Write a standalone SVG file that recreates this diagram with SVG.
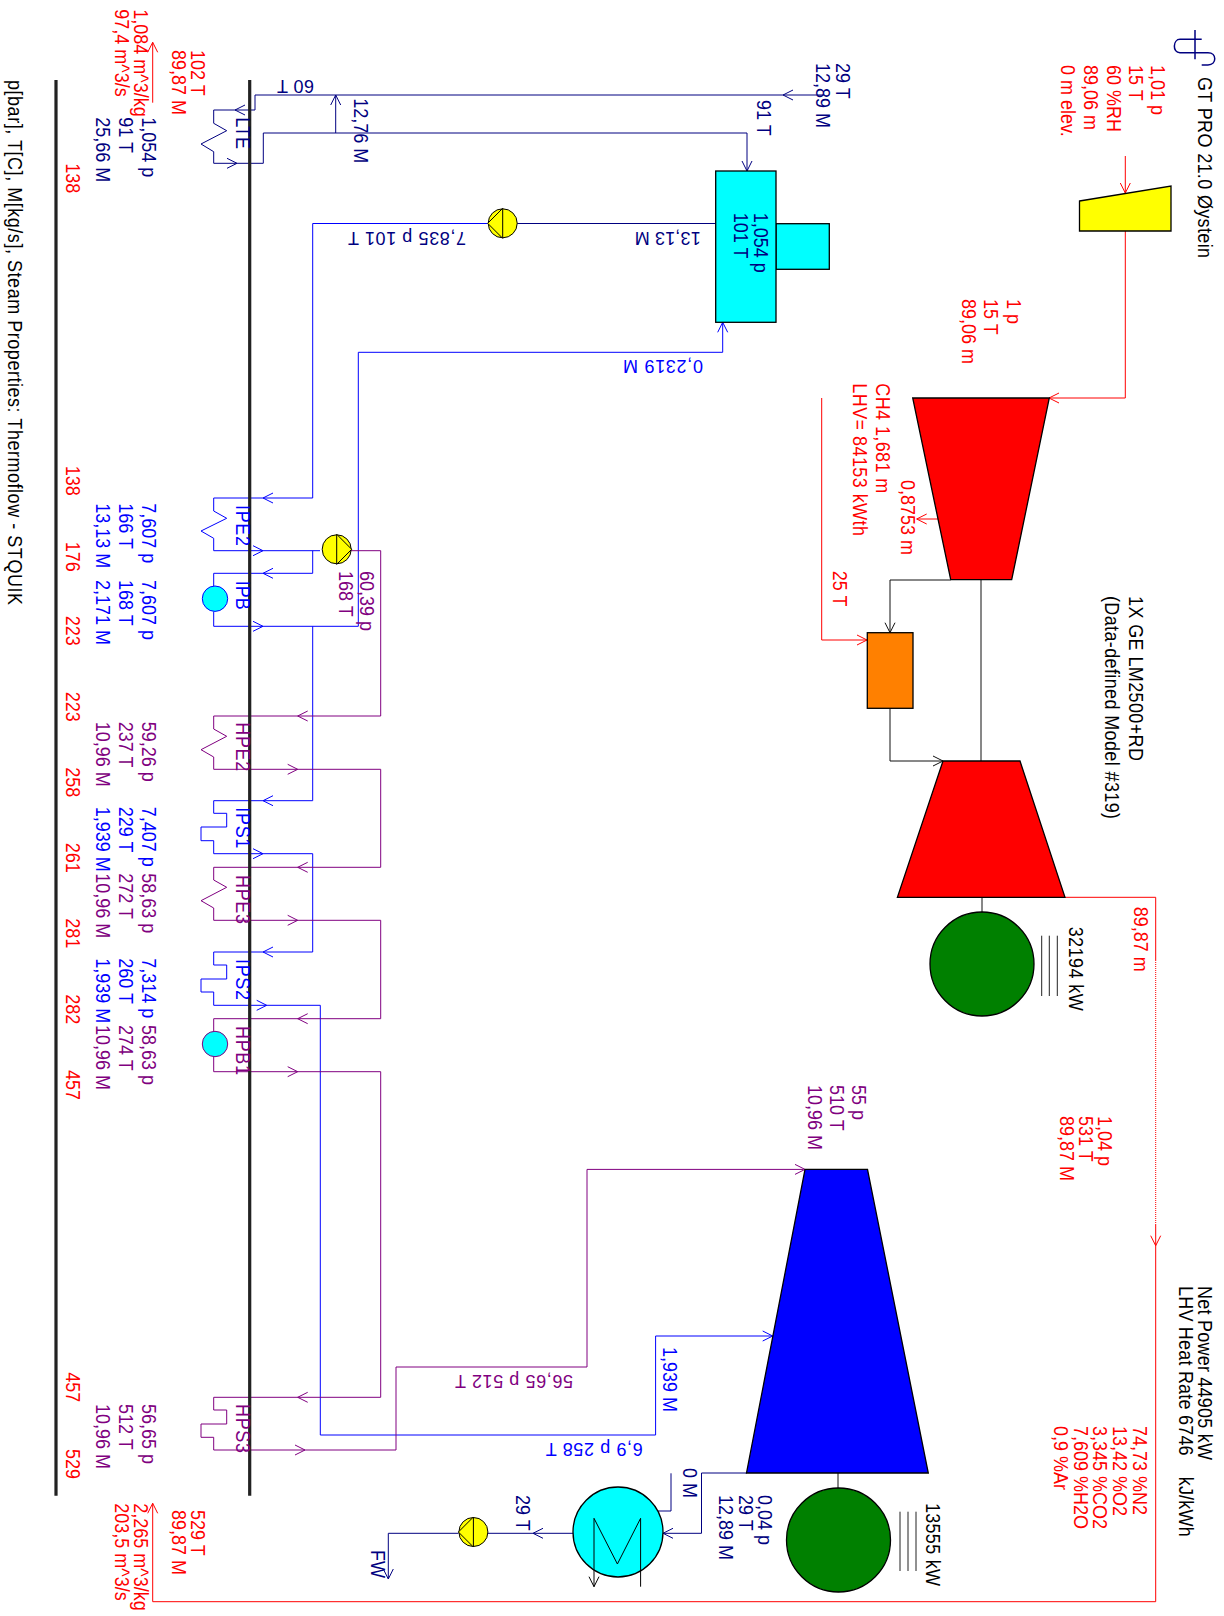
<svg xmlns="http://www.w3.org/2000/svg" width="1224" height="1616" viewBox="0 0 1224 1616">
<style>
text{font-family:"Liberation Sans",Arial,sans-serif;font-size:18px;white-space:pre}
.r{fill:#f00}.n{fill:#000080}.b{fill:#00f}.p{fill:#800080}.k{fill:#000}
.lr,.ln,.lb,.lp,.lk{fill:none;stroke-width:1}
.lr{stroke:#f00}.ln{stroke:#000080}.lb{stroke:#00f}.lp{stroke:#800080}.lk{stroke:#111}
.e{stroke:#000;stroke-width:1.3}
.wall{stroke:#222;stroke-width:3.2;fill:none}
</style>
<defs>
<path id="ah" d="M-10,-5 L0,0 L-10,5" fill="none"/>
<g id="pump"><circle r="14.5" fill="#ff0" stroke="#000" stroke-width="1"/><path d="M-15,0 L0,-15 L0,15 Z" fill="#ff0" stroke="#000" stroke-width="1"/></g>
</defs>
<rect width="1224" height="1616" fill="#fff"/>

<g id="connectors">
<path class="lr" d="M1125.3,156V193M1125.3,231V398H1049"/>
<use href="#ah" class="lr" transform="translate(1125.3,193) rotate(90)"/>
<use href="#ah" class="lr" transform="translate(1049,398) rotate(180)"/>
<path class="lk" d="M950.7,580H890V632.7"/>
<use href="#ah" class="lk" transform="translate(890,632.7) rotate(90)"/>
<path class="lk" d="M890,708.3V761H943"/>
<use href="#ah" class="lk" transform="translate(943,761)"/>
<path class="lk" d="M981,580V761M982,897V912M838,1473V1488"/>
<path class="lr" d="M821.7,398V640H867"/>
<use href="#ah" class="lr" transform="translate(867,640)"/>
<path class="lr" d="M938,519H916.7"/>
<use href="#ah" class="lr" transform="translate(916.7,519) rotate(180)"/>
<path class="lr" d="M1065,897.3H1155.7V960M1155.7,1225V1601.7H152.7V1503.3M152.7,102.7V42.3"/>
<path class="lr" d="M1155.7,960V1225" stroke-dasharray="1 1"/>
<use href="#ah" class="lr" transform="translate(1155.7,1245.7) rotate(90)"/>
<use href="#ah" class="lr" transform="translate(152.7,1503.3) rotate(-90)"/>
<use href="#ah" class="lr" transform="translate(152.7,42.3) rotate(-90)"/>
<path class="ln" d="M824,95H255V110H213.7V123.3L226.7,130.7L201,144L213.7,151.7V163.3H263.3V133H747V171"/>
<use href="#ah" class="ln" transform="translate(783,95) rotate(180)"/>
<use href="#ah" class="ln" transform="translate(235,110) rotate(180)"/>
<use href="#ah" class="ln" transform="translate(237,163.3)"/>
<use href="#ah" class="ln" transform="translate(747,171) rotate(90)"/>
<path class="ln" d="M335.7,133V95"/>
<use href="#ah" class="ln" transform="translate(335.7,95) rotate(-90)"/>
<path class="ln" d="M715.7,223.5H517"/>
<path class="lb" d="M487.5,223.5H312.7V498H213.7V511L226.7,518.3L201,531L213.7,538.3V550.7H320"/>
<use href="#ah" class="lb" transform="translate(263,498) rotate(180)"/>
<use href="#ah" class="lb" transform="translate(263,550.7)"/>
<path class="lb" d="M312.7,550.7V573.3H213.7V586M213.7,611.5V626.3H358.3V352.3H722.7V322.3"/>
<use href="#ah" class="lb" transform="translate(263,573.3) rotate(180)"/>
<use href="#ah" class="lb" transform="translate(263,626.3)"/>
<use href="#ah" class="lb" transform="translate(722.7,322.3) rotate(-90)"/>
<path class="lb" d="M312.7,626.3V800.7H213.7V813.3H226.7V827H201V840.7H213.7V853.7H312.7V952H213.7V965H226.7V979H201V992H213.7V1005.3H320.3V1435H655.6V1336H772.7"/>
<use href="#ah" class="lb" transform="translate(263,800.7) rotate(180)"/>
<use href="#ah" class="lb" transform="translate(263,853.7)"/>
<use href="#ah" class="lb" transform="translate(263,952) rotate(180)"/>
<use href="#ah" class="lb" transform="translate(266.7,1005.3)"/>
<use href="#ah" class="lb" transform="translate(772.7,1336)"/>
<path class="lp" d="M350.7,550.7H380.7V716H213.7V729L226.7,736.3L201,749.7L213.7,757V769.3H380.7V867.3H213.7V880L226.7,887.3L201,900.7L213.7,908V920.3H380.7V1018.7H213.7V1031.3M213.7,1057V1071.7H380.7V1397.3H213.7V1410H226.7V1424H201V1437.3H213.7V1450H396V1367H587V1169.4H803.6"/>
<use href="#ah" class="lp" transform="translate(297.7,716) rotate(180)"/>
<use href="#ah" class="lp" transform="translate(297.7,769.3)"/>
<use href="#ah" class="lp" transform="translate(297.7,867.3) rotate(180)"/>
<use href="#ah" class="lp" transform="translate(297.7,920.3)"/>
<use href="#ah" class="lp" transform="translate(297.7,1018.7) rotate(180)"/>
<use href="#ah" class="lp" transform="translate(297.7,1071.7)"/>
<use href="#ah" class="lp" transform="translate(297.7,1397.3) rotate(180)"/>
<use href="#ah" class="lp" transform="translate(305,1450)"/>
<use href="#ah" class="lp" transform="translate(805,1169.4)"/>
<path class="ln" d="M747,1473H701.5V1533.3H663"/>
<use href="#ah" class="ln" transform="translate(663,1533.3) rotate(180)"/>
<path class="ln" d="M671,1473.3V1511H641.6"/>
<use href="#ah" class="ln" transform="translate(641.6,1511) rotate(180)"/>
<path class="ln" d="M573,1533.3H488M458.5,1533.3H388.3V1579"/>
<use href="#ah" class="ln" transform="translate(533,1533.3) rotate(180)"/>
<use href="#ah" class="ln" transform="translate(388.3,1579) rotate(90)"/>
</g>

<g id="hrsg-walls"><path class="wall" d="M56,80V1495.7M249.7,80V1495.7"/></g>

<g id="logo"><path d="M1195,30V59.3M1201.7,39.3H1180C1173,39.3 1172,52.7 1180,52.7H1208C1217,52.7 1217,65 1208,65H1201.7" fill="none" stroke="#000080" stroke-width="1.5"/></g>

<g id="title">
<text class="k" transform="translate(1197.3,77) rotate(90) translate(0 -0.7) scale(1 1.1)" textLength="181" lengthAdjust="spacing">GT PRO 21.0 Øystein</text>
<text class="k" transform="translate(1128.3,596) rotate(90) translate(0 -0.7) scale(1 1.1)" textLength="165" lengthAdjust="spacing">1X GE LM2500+RD</text>
<text class="k" transform="translate(1104,596) rotate(90) translate(0 -0.7) scale(1 1.1)" textLength="223" lengthAdjust="spacing">(Data-defined Model #319)</text>
<text class="k" transform="translate(1197.3,1286) rotate(90) translate(0 -0.7) scale(1 1.1)" textLength="174" lengthAdjust="spacing">Net Power 44905 kW</text>
<text class="k" transform="translate(1178.5,1286) rotate(90) translate(0 -0.7) scale(1 1.1)" textLength="250.7" lengthAdjust="spacing">LHV Heat Rate 6746    kJ/kWh</text>
<text class="k" transform="translate(7.7,80) rotate(90) translate(0 -0.7) scale(1 1.1)" textLength="525" lengthAdjust="spacing">p[bar], T[C], M[kg/s], Steam Properties: Thermoflow - STQUIK</text>
</g>

<g id="ambient">
<text class="r" transform="translate(1150,65) rotate(90) translate(0 -0.7) scale(1 1.1)">1,01 p</text>
<text class="r" transform="translate(1128.3,65) rotate(90) translate(0 -0.7) scale(1 1.1)">15 T</text>
<text class="r" transform="translate(1106,65) rotate(90) translate(0 -0.7) scale(1 1.1)">60 %RH</text>
<text class="r" transform="translate(1083.3,65) rotate(90) translate(0 -0.7) scale(1 1.1)">89,06 m</text>
<text class="r" transform="translate(1060.7,65) rotate(90) translate(0 -0.7) scale(1 1.1)">0 m elev.</text>
</g>

<g id="inlet-filter"><path class="e" fill="#ff0" d="M1079.5,201L1171,186V231H1079.5Z"/></g>
<g id="inlet-state">
<text class="r" transform="translate(1006.6,299) rotate(90) translate(0 -0.7) scale(1 1.1)">1 p</text>
<text class="r" transform="translate(983.5,299) rotate(90) translate(0 -0.7) scale(1 1.1)">15 T</text>
<text class="r" transform="translate(961,299) rotate(90) translate(0 -0.7) scale(1 1.1)">89,06 m</text>
</g>
<g id="gt-compressor"><path class="e" fill="#f00" d="M912.7,398H1049.3L1011.7,579.7H950.7Z"/></g>
<g id="combustor"><rect class="e" x="867.3" y="632.7" width="45.7" height="75.6" fill="#ff8000"/></g>
<g id="gt-turbine"><path class="e" fill="#f00" d="M943,761H1020L1065,897.3H897.4Z"/></g>
<g id="gt-generator">
<circle class="e" cx="982" cy="964" r="52" fill="#008000"/>
<path d="M1041.7,935.7V996M1049.3,935.7V996M1057.3,935.7V996" stroke="#222" fill="none"/>
<text class="k" transform="translate(1068.3,926.7) rotate(90) translate(0 -0.7) scale(1 1.1)" textLength="84" lengthAdjust="spacing">32194 kW</text>
</g>
<g id="fuel">
<text class="r" transform="translate(875.7,383.3) rotate(90) translate(0 -0.7) scale(1 1.1)" textLength="110" lengthAdjust="spacing">CH4 1,681 m</text>
<text class="r" transform="translate(852.7,383.3) rotate(90) translate(0 -0.7) scale(1 1.1)" textLength="152.7" lengthAdjust="spacing">LHV= 84153 kWth</text>
<text class="r" transform="translate(900.7,480) rotate(90) translate(0 -0.7) scale(1 1.1)">0,8753 m</text>
<text class="r" transform="translate(832.7,570.7) rotate(90) translate(0 -0.7) scale(1 1.1)">25 T</text>
</g>
<g id="exhaust">
<text class="r" transform="translate(1133.3,906.7) rotate(90) translate(0 -0.7) scale(1 1.1)">89,87 m</text>
<text class="r" transform="translate(1097.7,1116) rotate(90) translate(0 -0.7) scale(1 1.1)">1,04 p</text>
<text class="r" transform="translate(1078.3,1116) rotate(90) translate(0 -0.7) scale(1 1.1)">531 T</text>
<text class="r" transform="translate(1059.3,1116) rotate(90) translate(0 -0.7) scale(1 1.1)">89,87 M</text>
<text class="r" transform="translate(1132,1426) rotate(90) translate(0 -0.7) scale(1 1.1)">74,73 %N2</text>
<text class="r" transform="translate(1112,1426) rotate(90) translate(0 -0.7) scale(1 1.1)">13,42 %O2</text>
<text class="r" transform="translate(1092.7,1426) rotate(90) translate(0 -0.7) scale(1 1.1)">3,345 %CO2</text>
<text class="r" transform="translate(1073,1426) rotate(90) translate(0 -0.7) scale(1 1.1)">7,609 %H2O</text>
<text class="r" transform="translate(1053,1426) rotate(90) translate(0 -0.7) scale(1 1.1)">0,9 %Ar</text>
</g>
<g id="stack-out">
<text class="r" transform="translate(190.7,50) rotate(90) translate(0 -0.7) scale(1 1.1)">102 T</text>
<text class="r" transform="translate(171.7,50) rotate(90) translate(0 -0.7) scale(1 1.1)">89,87 M</text>
<text class="r" transform="translate(133.3,9.3) rotate(90) translate(0 -0.7) scale(1 1.1)">1,084 m^3/kg</text>
<text class="r" transform="translate(114,9.3) rotate(90) translate(0 -0.7) scale(1 1.1)">97,4 m^3/s</text>
</g>
<g id="stack-in">
<text class="r" transform="translate(190.7,1510) rotate(90) translate(0 -0.7) scale(1 1.1)">529 T</text>
<text class="r" transform="translate(171.7,1510) rotate(90) translate(0 -0.7) scale(1 1.1)">89,87 M</text>
<text class="r" transform="translate(133.3,1503.3) rotate(90) translate(0 -0.7) scale(1 1.1)">2,265 m^3/kg</text>
<text class="r" transform="translate(114,1503.3) rotate(90) translate(0 -0.7) scale(1 1.1)">203,5 m^3/s</text>
</g>
<g id="gas-temps">
<text class="r" transform="translate(65,163.3) rotate(90) translate(0 -0.7) scale(1 1.1)">138</text>
<text class="r" transform="translate(65,465.7) rotate(90) translate(0 -0.7) scale(1 1.1)">138</text>
<text class="r" transform="translate(65,541.7) rotate(90) translate(0 -0.7) scale(1 1.1)">176</text>
<text class="r" transform="translate(65,615.7) rotate(90) translate(0 -0.7) scale(1 1.1)">223</text>
<text class="r" transform="translate(65,691.7) rotate(90) translate(0 -0.7) scale(1 1.1)">223</text>
<text class="r" transform="translate(65,767.3) rotate(90) translate(0 -0.7) scale(1 1.1)">258</text>
<text class="r" transform="translate(65,842.7) rotate(90) translate(0 -0.7) scale(1 1.1)">261</text>
<text class="r" transform="translate(65,918.3) rotate(90) translate(0 -0.7) scale(1 1.1)">281</text>
<text class="r" transform="translate(65,994.3) rotate(90) translate(0 -0.7) scale(1 1.1)">282</text>
<text class="r" transform="translate(65,1070) rotate(90) translate(0 -0.7) scale(1 1.1)">457</text>
<text class="r" transform="translate(65,1372.3) rotate(90) translate(0 -0.7) scale(1 1.1)">457</text>
<text class="r" transform="translate(65,1449) rotate(90) translate(0 -0.7) scale(1 1.1)">529</text>
</g>

<g id="LTE">
<text class="n" transform="translate(235.7,117.3) rotate(90) translate(0 -0.7) scale(1 1.1)">LTE</text>
<text class="n" transform="translate(141,117.3) rotate(90) translate(0 -0.7) scale(1 1.1)">1,054 p</text>
<text class="n" transform="translate(118.3,117.3) rotate(90) translate(0 -0.7) scale(1 1.1)">91 T</text>
<text class="n" transform="translate(95.7,117.3) rotate(90) translate(0 -0.7) scale(1 1.1)">25,66 M</text>
</g>
<g id="IPE2">
<text class="b" transform="translate(235.7,505) rotate(90) translate(0 -0.7) scale(1 1.1)" textLength="41" lengthAdjust="spacing">IPE2</text>
<text class="b" transform="translate(141,503.3) rotate(90) translate(0 -0.7) scale(1 1.1)">7,607 p</text>
<text class="b" transform="translate(118.3,503.3) rotate(90) translate(0 -0.7) scale(1 1.1)">166 T</text>
<text class="b" transform="translate(95.7,503.3) rotate(90) translate(0 -0.7) scale(1 1.1)">13,13 M</text>
</g>
<g id="IPB">
<circle cx="215" cy="598.7" r="12.7" fill="#0ff" stroke="#00f"/>
<text class="b" transform="translate(235.7,580.7) rotate(90) translate(0 -0.7) scale(1 1.1)">IPB</text>
<text class="b" transform="translate(141,580) rotate(90) translate(0 -0.7) scale(1 1.1)">7,607 p</text>
<text class="b" transform="translate(118.3,580) rotate(90) translate(0 -0.7) scale(1 1.1)">168 T</text>
<text class="b" transform="translate(95.7,580) rotate(90) translate(0 -0.7) scale(1 1.1)">2,171 M</text>
</g>
<g id="HPE2">
<text class="p" transform="translate(235.7,722.3) rotate(90) translate(0 -0.7) scale(1 1.1)" textLength="49" lengthAdjust="spacing">HPE2</text>
<text class="p" transform="translate(141,721.7) rotate(90) translate(0 -0.7) scale(1 1.1)">59,26 p</text>
<text class="p" transform="translate(118.3,721.7) rotate(90) translate(0 -0.7) scale(1 1.1)">237 T</text>
<text class="p" transform="translate(95.7,721.7) rotate(90) translate(0 -0.7) scale(1 1.1)">10,96 M</text>
</g>
<g id="IPS1">
<text class="b" transform="translate(235.7,807.3) rotate(90) translate(0 -0.7) scale(1 1.1)" textLength="41" lengthAdjust="spacing">IPS1</text>
<text class="b" transform="translate(141,806.7) rotate(90) translate(0 -0.7) scale(1 1.1)">7,407 p</text>
<text class="b" transform="translate(118.3,806.7) rotate(90) translate(0 -0.7) scale(1 1.1)">229 T</text>
<text class="b" transform="translate(95.7,806.7) rotate(90) translate(0 -0.7) scale(1 1.1)">1,939 M</text>
</g>
<g id="HPE3">
<text class="p" transform="translate(235.7,875) rotate(90) translate(0 -0.7) scale(1 1.1)" textLength="49" lengthAdjust="spacing">HPE3</text>
<text class="p" transform="translate(141,873.3) rotate(90) translate(0 -0.7) scale(1 1.1)">58,63 p</text>
<text class="p" transform="translate(118.3,873.3) rotate(90) translate(0 -0.7) scale(1 1.1)">272 T</text>
<text class="p" transform="translate(95.7,873.3) rotate(90) translate(0 -0.7) scale(1 1.1)">10,96 M</text>
</g>
<g id="IPS2">
<text class="b" transform="translate(235.7,959) rotate(90) translate(0 -0.7) scale(1 1.1)" textLength="41" lengthAdjust="spacing">IPS2</text>
<text class="b" transform="translate(141,958.3) rotate(90) translate(0 -0.7) scale(1 1.1)">7,314 p</text>
<text class="b" transform="translate(118.3,958.3) rotate(90) translate(0 -0.7) scale(1 1.1)">260 T</text>
<text class="b" transform="translate(95.7,958.3) rotate(90) translate(0 -0.7) scale(1 1.1)">1,939 M</text>
</g>
<g id="HPB1">
<circle cx="215" cy="1044" r="12.7" fill="#0ff" stroke="#800080"/>
<text class="p" transform="translate(235.7,1026) rotate(90) translate(0 -0.7) scale(1 1.1)" textLength="49" lengthAdjust="spacing">HPB1</text>
<text class="p" transform="translate(141,1025) rotate(90) translate(0 -0.7) scale(1 1.1)">58,63 p</text>
<text class="p" transform="translate(118.3,1025) rotate(90) translate(0 -0.7) scale(1 1.1)">274 T</text>
<text class="p" transform="translate(95.7,1025) rotate(90) translate(0 -0.7) scale(1 1.1)">10,96 M</text>
</g>
<g id="HPS3">
<text class="p" transform="translate(235.7,1404) rotate(90) translate(0 -0.7) scale(1 1.1)" textLength="49" lengthAdjust="spacing">HPS3</text>
<text class="p" transform="translate(141,1404) rotate(90) translate(0 -0.7) scale(1 1.1)">56,65 p</text>
<text class="p" transform="translate(118.3,1404) rotate(90) translate(0 -0.7) scale(1 1.1)">512 T</text>
<text class="p" transform="translate(95.7,1404) rotate(90) translate(0 -0.7) scale(1 1.1)">10,96 M</text>
</g>

<g id="deaerator">
<rect class="e" x="776" y="223.7" width="53.3" height="45.6" fill="#0ff"/>
<rect class="e" x="715.7" y="171" width="60.3" height="151.3" fill="#0ff"/>
<text class="n" transform="translate(753.3,212.7) rotate(90) translate(0 -0.7) scale(1 1.1)">1,054 p</text>
<text class="n" transform="translate(733.3,212.7) rotate(90) translate(0 -0.7) scale(1 1.1)">101 T</text>
</g>
<g id="ip-pump-1"><use href="#pump" transform="translate(502.7,223.3)"/></g>
<g id="ip-pump-2"><use href="#pump" transform="translate(336.7,549.3) rotate(180)"/></g>
<g id="cond-pump"><use href="#pump" transform="translate(473.4,1532)"/></g>
<g id="stream-labels">
<text class="n" transform="translate(314,80) rotate(180)" textLength="37" lengthAdjust="spacing">60 T</text>
<text class="n" transform="translate(353.3,98.3) rotate(90) translate(0 -0.7) scale(1 1.1)">12,76 M</text>
<text class="n" transform="translate(756,100) rotate(90) translate(0 -0.7) scale(1 1.1)">91 T</text>
<text class="n" transform="translate(835,63) rotate(90) translate(0 -0.7) scale(1 1.1)">29 T</text>
<text class="n" transform="translate(815.7,63) rotate(90) translate(0 -0.7) scale(1 1.1)">12,89 M</text>
<text class="n" transform="translate(466,232) rotate(180)" textLength="118" lengthAdjust="spacing">7,835 p 101 T</text>
<text class="n" transform="translate(700.7,231.7) rotate(180)" textLength="66" lengthAdjust="spacing">13,13 M</text>
<text class="b" transform="translate(703,360) rotate(180)" textLength="80" lengthAdjust="spacing">0,2319 M</text>
<text class="p" transform="translate(359.3,571) rotate(90) translate(0 -0.7) scale(1 1.1)">60,39 p</text>
<text class="p" transform="translate(338.3,571) rotate(90) translate(0 -0.7) scale(1 1.1)">168 T</text>
<text class="p" transform="translate(573,1375) rotate(180)" textLength="118" lengthAdjust="spacing">56,65 p 512 T</text>
<text class="b" transform="translate(642.7,1443.3) rotate(180)" textLength="97" lengthAdjust="spacing">6,9 p 258 T</text>
<text class="b" transform="translate(662.3,1347) rotate(90) translate(0 -0.7) scale(1 1.1)">1,939 M</text>
<text class="n" transform="translate(682,1468) rotate(90) translate(0 -0.7) scale(1 1.1)">0 M</text>
<text class="n" transform="translate(757.6,1495) rotate(90) translate(0 -0.7) scale(1 1.1)">0,04 p</text>
<text class="n" transform="translate(738,1495) rotate(90) translate(0 -0.7) scale(1 1.1)">29 T</text>
<text class="n" transform="translate(718,1495) rotate(90) translate(0 -0.7) scale(1 1.1)">12,89 M</text>
<text class="n" transform="translate(515.4,1495) rotate(90) translate(0 -0.7) scale(1 1.1)">29 T</text>
<text class="n" transform="translate(370,1550) rotate(90) translate(0 -0.7) scale(1 1.1)">FW</text>
</g>
<g id="hp-inlet">
<text class="p" transform="translate(851,1085) rotate(90) translate(0 -0.7) scale(1 1.1)">55 p</text>
<text class="p" transform="translate(829,1085) rotate(90) translate(0 -0.7) scale(1 1.1)">510 T</text>
<text class="p" transform="translate(807,1085) rotate(90) translate(0 -0.7) scale(1 1.1)">10,96 M</text>
</g>
<g id="steam-turbine"><path class="e" fill="#00f" d="M805,1169.4H867.5L928.3,1473H746.5Z"/></g>
<g id="st-generator">
<circle class="e" cx="838.5" cy="1540" r="52" fill="#008000"/>
<path d="M900,1511.7V1571M908,1511.7V1571M916,1511.7V1571" stroke="#222" fill="none"/>
<text class="k" transform="translate(925,1503) rotate(90) translate(0 -0.7) scale(1 1.1)" textLength="83" lengthAdjust="spacing">13555 kW</text>
</g>
<g id="condenser">
<circle class="e" cx="618" cy="1532" r="45" fill="#0ff"/>
<path d="M594,1586.7V1518.3L617.4,1564L640.6,1518.3V1586.7" fill="none" stroke="#000" stroke-width="1"/>
<use href="#ah" stroke="#000" transform="translate(594,1586.7) rotate(90)"/>
</g>
</svg>
